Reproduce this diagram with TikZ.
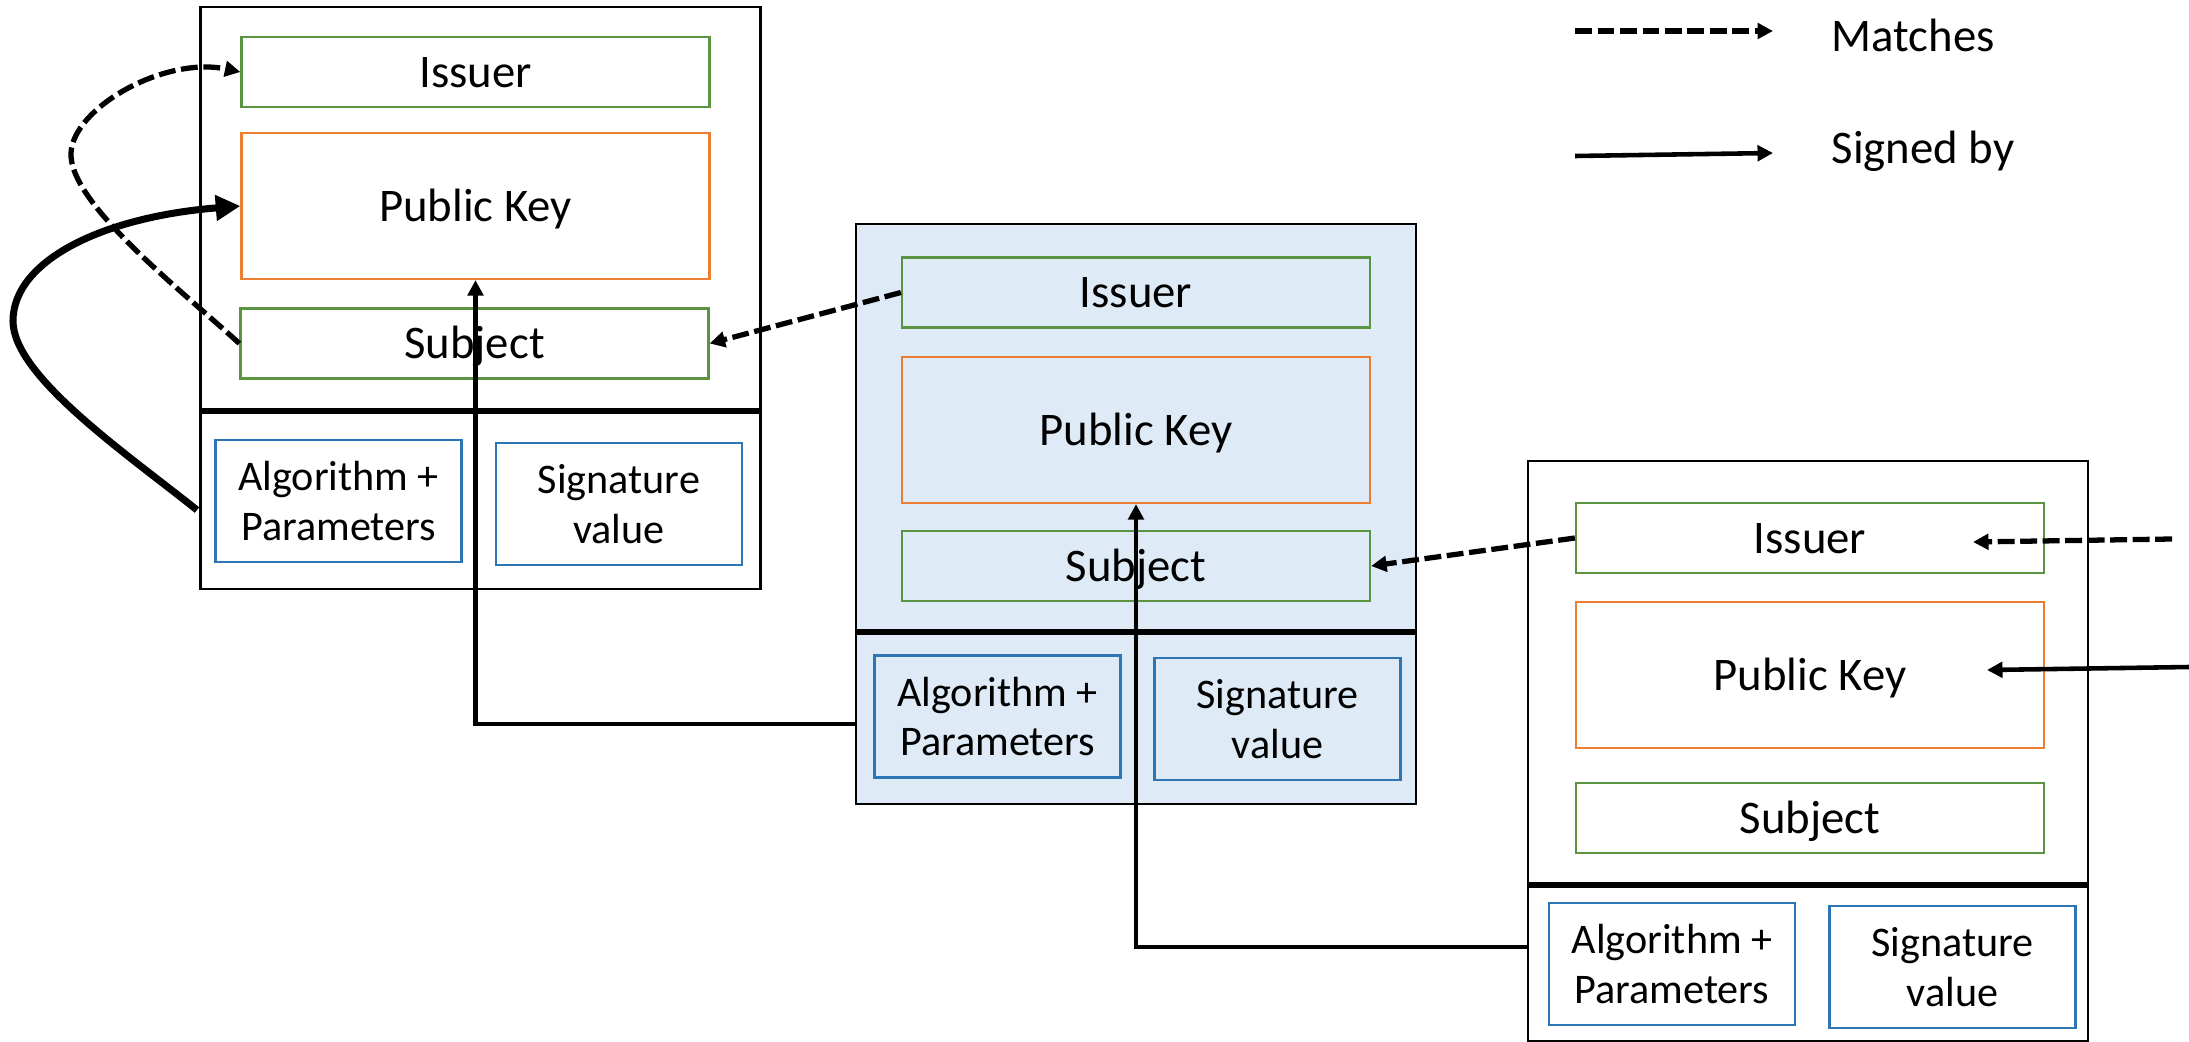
\documentclass[tikz,border=0pt]{standalone}
\usepackage{fontspec}
\setmainfont{Carlito}
\usetikzlibrary{arrows.meta}
\definecolor{namegreen}{HTML}{5B9440}
\definecolor{keyorange}{HTML}{ED7D31}
\definecolor{algblue}{HTML}{2E75B6}
\definecolor{certfill}{HTML}{DEEBF7}
\tikzset{
	certbox/.style={draw, line width=0.8pt, inner sep=0pt, minimum width=5.60cm, minimum height=5.82cm},
	namebox/.style={draw=namegreen, line width=0.65pt, inner sep=0pt, minimum width=4.68cm, minimum height=0.70cm, text height=11.6pt, text depth=3pt, font=\fontsize{13.3}{16}\selectfont},
	keybox/.style={draw=keyorange, line width=0.65pt, inner sep=0pt, minimum width=4.68cm, minimum height=1.46cm, text height=11.6pt, text depth=3pt, font=\fontsize{13.3}{16}\selectfont},
	sigbox/.style={draw=algblue, line width=0.65pt, inner sep=0pt, minimum width=2.46cm, minimum height=1.22cm, align=center, font=\fontsize{12}{14.2}\selectfont},
	divider/.style={line width=1.5pt},
	matches/.style={line width=1.5pt, dash pattern=on 4.8pt off 1.6pt, -{Triangle[length=4.4pt,width=4.4pt]}},
	signed/.style={line width=1.3pt, -{Triangle[length=4.4pt,width=4.4pt]}},
	selfsigned/.style={line width=2pt, -{Triangle[length=7pt,width=7pt]}},
}

\begin{document}
\begin{tikzpicture}
			%%%%% START %%%%%
			\useasboundingbox (0, 0) rectangle (21.89, 10.41);
			
			% root certificate
			\node[certbox] (c1) at (4.805, 7.43) {};
			\draw[divider] (2.00, 6.30) -- (7.61, 6.30);
			\node[namebox] (iss1) at (4.755, 9.69) {Issuer};
			\node[keybox] (pk1) at (4.755, 8.35) {Public Key};
			\node[namebox] (sub1) at (4.745, 6.975) {Subject};
			\node[sigbox] (alg1) at (3.385, 5.40) {Algorithm +\\Parameters};
			\node[sigbox] (sig1) at (6.19, 5.37) {Signature\\value};
			
			% intermediate certificate
			\node[certbox, fill=certfill, minimum height=5.80cm] (c2) at (11.36, 5.27) {};
			\draw[divider] (8.56, 4.09) -- (14.16, 4.09);
			\node[namebox] (iss2) at (11.36, 7.485) {Issuer};
			\node[keybox] (pk2) at (11.36, 6.11) {Public Key};
			\node[namebox] (sub2) at (11.36, 4.75) {Subject};
			\node[sigbox] (alg2) at (9.975, 3.245) {Algorithm +\\Parameters};
			\node[sigbox] (sig2) at (12.775, 3.22) {Signature\\value};
			
			% leaf certificate
			\node[certbox, minimum height=5.80cm] (c3) at (18.08, 2.90) {};
			\draw[divider] (15.28, 1.56) -- (20.88, 1.56);
			\node[namebox] (iss3) at (18.10, 5.03) {Issuer};
			\node[keybox] (pk3) at (18.10, 3.66) {Public Key};
			\node[namebox] (sub3) at (18.10, 2.23) {Subject};
			\node[sigbox] (alg3) at (16.72, 0.77) {Algorithm +\\Parameters};
			\node[sigbox] (sig3) at (19.525, 0.74) {Signature\\value};
			
			% links
			\coordinate (out1) at (1.97, 5.31);
			\coordinate (bend1) at (0.13, 7.20);
			\coordinate (bend2) at (0.71, 8.88);
			\coordinate (out2) at (8.56, 3.17);
			\coordinate (out3) at (15.28, 0.94);
			\coordinate (from3m) at (21.72, 5.02);
			\coordinate (tip3m) at (19.73, 4.99);
			\coordinate (from3s) at (21.89, 3.74);
			\coordinate (tip3s) at (19.87, 3.71);
			
			\draw[selfsigned] (out1) .. controls (1.27, 5.87) and (0.13, 6.65) .. (bend1) .. controls (0.13, 7.80) and (1.02, 8.24) .. (pk1.west);
			\draw[matches] (sub1.west) .. controls (1.80, 7.52) and (0.69, 8.38) .. (bend2) .. controls (0.73, 9.33) and (1.64, 9.85) .. (iss1.west);
			
			\draw[signed] (out2) -| (pk1.south);
			\draw[signed] (out3) -| (pk2.south);
			\draw[matches] (iss2.west) -- (sub1.east);
			\draw[matches] (iss3.west) -- (sub2.east);
			\draw[matches] (from3m) -- (tip3m);
			\draw[signed] (from3s) -- (tip3s);
			
			% legend
			\coordinate (leg1a) at (15.75, 10.10);
			\coordinate (leg1b) at (17.73, 10.10);
			\coordinate (leg2a) at (15.75, 8.85);
			\coordinate (leg2b) at (17.73, 8.88);
			\draw[matches] (leg1a) -- (leg1b);
			\draw[signed] (leg2a) -- (leg2b);
			\node[anchor=base west, inner sep=0pt, font=\fontsize{13.3}{16}\selectfont] (mlabel) at (18.31, 9.89) {Matches};
			\node[anchor=base west, inner sep=0pt, font=\fontsize{13.3}{16}\selectfont] (slabel) at (18.31, 8.78) {Signed by};
			
			%%%%% END %%%%%
\end{tikzpicture}
\end{document}
